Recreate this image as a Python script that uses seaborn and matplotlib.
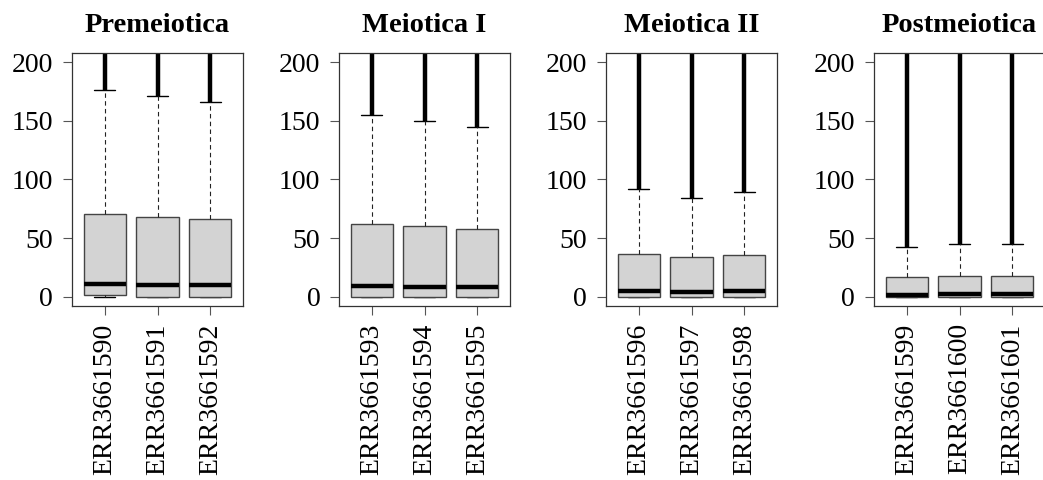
import numpy as np
import pandas as pd
import matplotlib
matplotlib.use("Agg")
import matplotlib.pyplot as plt
import seaborn as sns

# ---- data ----
stages = ["Premeiotica", "Meiotica I", "Meiotica II", "Postmeiotica"]
samples = [
    ["ERR3661590", "ERR3661591", "ERR3661592"],
    ["ERR3661593", "ERR3661594", "ERR3661595"],
    ["ERR3661596", "ERR3661597", "ERR3661598"],
    ["ERR3661599", "ERR3661600", "ERR3661601"],
]
whisker_low = [[0, 0, 0], [0, 0, 0], [0, 0, 0], [0, 0, 0]]
q1 = [[1, 0, 0], [0, 0, 0], [0, 0, 0], [0, 0, 0]]
median = [[11, 10, 10], [9.2, 8.6, 8.6], [4.6, 4.0, 4.6], [1.1, 2.3, 2.3]]
q3 = [[70.5, 68, 66.5], [62.4, 60.1, 57.8], [36.6, 33.7, 35.2], [16.9, 17.7, 17.7]]
whisker_high = [[176, 171, 166], [155, 150, 145], [92, 84, 89], [42, 45, 45]]
# outliers run from just above the upper whisker to well beyond the clipped axis
outlier_max = [[5000, 5000, 5000], [5000, 5000, 5000], [5000, 5000, 5000], [5000, 5000, 5000]]
yticks = [0, 50, 100, 150, 200]

sns.set_style("white")
plt.rcParams["font.family"] = ["Liberation Serif", "DejaVu Serif"]
plt.rcParams["text.color"] = "black"
plt.rcParams["xtick.labelcolor"] = "black"
plt.rcParams["ytick.labelcolor"] = "black"
plt.rcParams["axes.titlecolor"] = "black"

fig = plt.figure(figsize=(10.43, 4.8), dpi=100)
W, H = 1043.0, 480.0
lefts = [72, 339, 606, 874]
ax_w, top_px, bot_px = 171, 53, 306

for i, stage in enumerate(stages):
    ax = fig.add_axes([lefts[i] / W, 1 - bot_px / H, ax_w / W, (bot_px - top_px) / H])
    rows = []
    for j, s in enumerate(samples[i]):
        for v in (whisker_low[i][j], q1[i][j], median[i][j], q3[i][j], whisker_high[i][j]):
            rows.append({"sample": s, "value": v})
    df = pd.DataFrame(rows)
    sns.boxplot(
        data=df, x="sample", y="value", order=samples[i], ax=ax,
        whis=(0, 100), width=0.8, color="#d3d3d3", saturation=1,
        linecolor="#444444", linewidth=1.0, showfliers=False,
        medianprops=dict(color="black", linewidth=3.2),
        whiskerprops=dict(color="#222222", linewidth=0.8, linestyle=(0, (4, 3))),
        capprops=dict(color="black", linewidth=1.0),
    )
    for c in ax.containers:
        for cap in getattr(c, "caps", []):
            cap.set_zorder(1.5)
    # dense outliers drawn as a thick line above the upper whisker
    ax.vlines(np.arange(len(samples[i])), whisker_high[i], outlier_max[i],
              color="black", linewidth=3.2, zorder=1)
    ax.set_ylim(-8, 208)
    ax.set_xlim(-0.62, 2.62)
    ax.set_yticks(yticks)
    ax.set_yticklabels([str(t) for t in yticks], fontsize=20)
    ax.set_xticks(range(len(samples[i])))
    ax.set_xticklabels(samples[i], rotation=90, fontsize=20, va="top")
    ax.set_xlabel("")
    ax.set_ylabel("")
    ax.tick_params(axis="both", direction="out", length=6.5, width=0.8,
                   color="#555555", bottom=True, left=True)
    ax.tick_params(axis="y", pad=7)
    ax.tick_params(axis="x", pad=6)
    for sp in ax.spines.values():
        sp.set_visible(True)
        sp.set_color("#333333")
        sp.set_linewidth(0.9)
    ax.set_title(stage, fontsize=20.5, fontweight="bold", pad=15, color="black")

fig.savefig("out.png", dpi=100)
